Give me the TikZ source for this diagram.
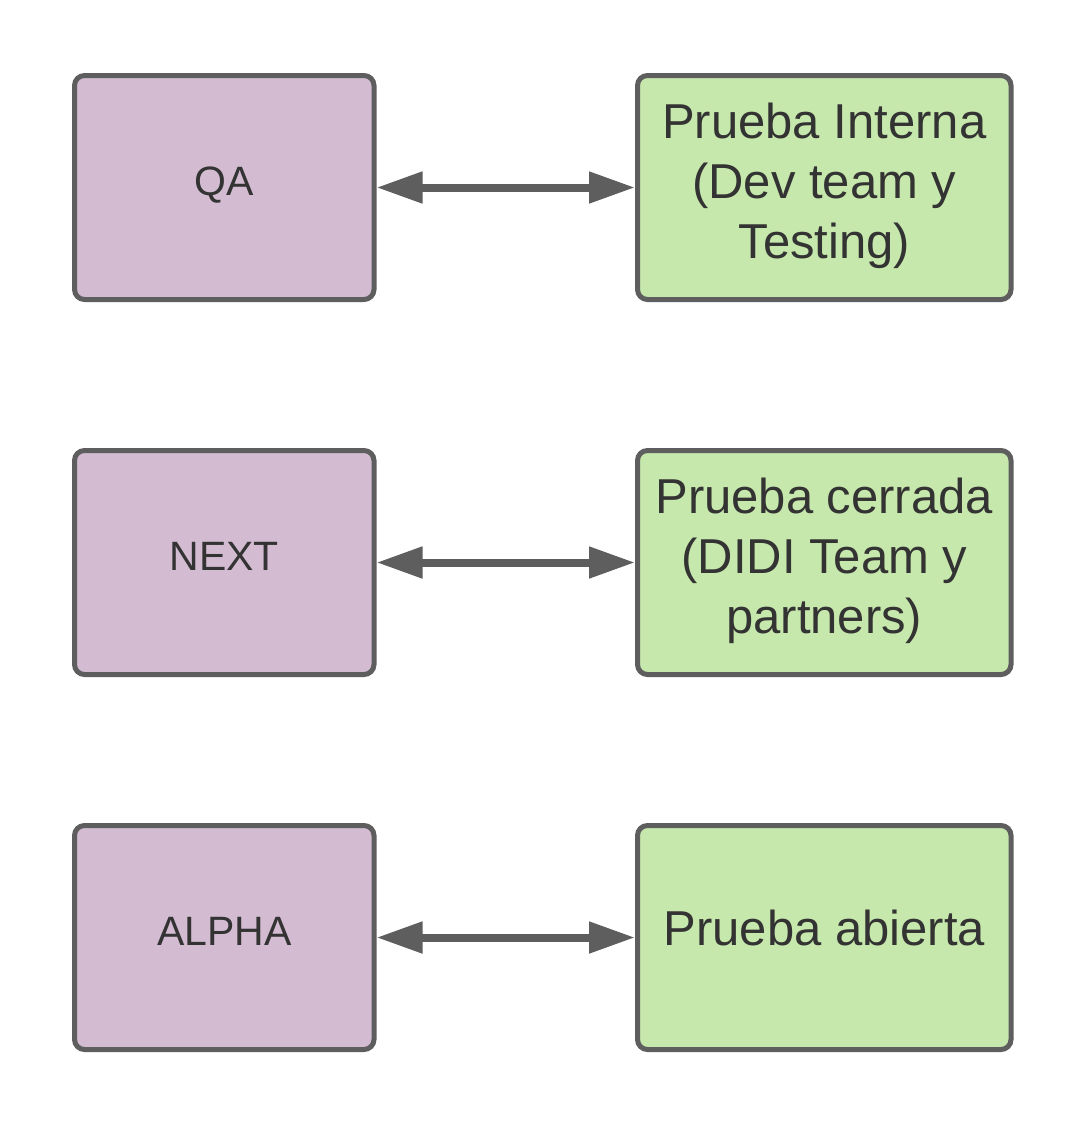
\documentclass[tikz,border=0pt]{standalone}
\usepackage{fontspec}
\setmainfont{Liberation Sans}
\usetikzlibrary{arrows.meta}
\definecolor{edge}{RGB}{94,94,94}
\definecolor{lilac}{RGB}{211,188,210}
\definecolor{leaf}{RGB}{199,232,172}
\definecolor{ink}{RGB}{51,51,51}
\begin{document}
\begin{tikzpicture}[x=1pt,y=-1pt,
  box/.style={draw=edge, line width=5pt, rounded corners=10pt, minimum height=224pt, inner sep=0pt, text=ink, align=center},
  leftbox/.style={box, fill=lilac, minimum width=299.5pt, font=\fontsize{41}{49}\selectfont, text height=30pt, text depth=13.6pt},
  rightbox/.style={box, fill=leaf, minimum width=373.5pt, font=\fontsize{49}{60}\selectfont},
  rightone/.style={rightbox, text height=36pt, text depth=21pt},
  rightthree/.style={rightbox, text height=156pt, text depth=14pt},
  link/.style={draw=edge, line width=8pt, {Triangle[length=46pt 0, width=30pt 0]}-{Triangle[length=46pt 0, width=30pt 0]}}
]
\useasboundingbox (0,0) rectangle (1088,1125);
\node[leftbox] (qa) at (224.25,187.5) {QA};
\node[rightthree] (interna) at (824.25,187.5) {Prueba Interna\\(Dev team y\\Testing)};
\node[leftbox] (next) at (224.25,562.5) {NEXT};
\node[rightthree] (cerrada) at (824.25,562.5) {Prueba cerrada\\(DIDI Team y\\partners)};
\node[leftbox] (alpha) at (224.25,937.5) {ALPHA};
\node[rightone] (abierta) at (824.25,937.5) {Prueba abierta};
\draw[link] (qa.east) -- (interna.west);
\draw[link] (next.east) -- (cerrada.west);
\draw[link] (alpha.east) -- (abierta.west);
\end{tikzpicture}
\end{document}
